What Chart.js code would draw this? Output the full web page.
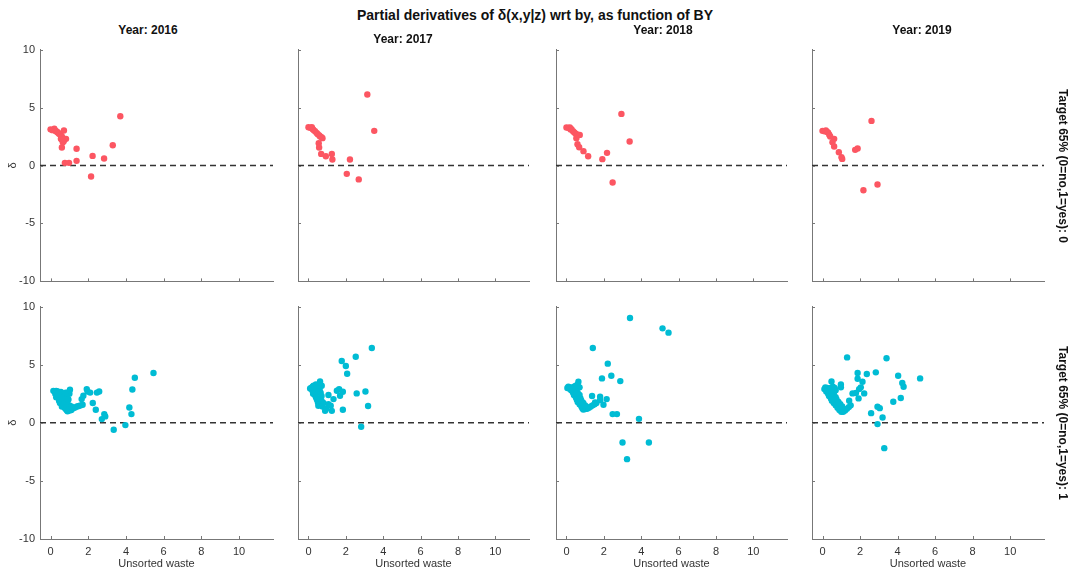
<!DOCTYPE html>
<html>
<head>
<meta charset="utf-8">
<script src="https://cdn.jsdelivr.net/npm/chart.js@4.4.1/dist/chart.umd.min.js"></script>
<style>
  body { margin: 0; background: #fff; }
  #wrap { position: relative; width: 1072px; height: 575px; overflow: hidden; font-family: "Liberation Sans", Arial, sans-serif; color: #111; }
  #wrap canvas { position: absolute; }
  .lbl { position: absolute; white-space: nowrap; font-weight: bold; transform: translate(-50%, -50%); }
  .main { font-size: 14px; }
  .year { font-size: 12px; }
  .row { font-size: 12px; transform: translate(-50%, -50%) rotate(90deg); }
</style>
</head>
<body>
<div id="wrap"></div>
<script>
// axis settings
const years = ["2016", "2017", "2018", "2019"];
const rowLabels = ["Target 65% (0=no,1=yes): 0", "Target 65% (0=no,1=yes): 1"];
const xTicks = [0, 2, 4, 6, 8, 10];
const yTicks = [-10, -5, 0, 5, 10];
const colors = ["rgb(252,86,98)", "rgb(0,188,212)"];

// target = 0 (top row), points as [unsorted waste, delta]
const t0_2016 = [
  [0.0, 3.12], [0.1, 3.05], [0.2, 3.18], [0.25, 3.0], [0.3, 2.95], [0.35, 2.9], [0.4, 2.82],
  [0.45, 2.75], [0.5, 2.7], [0.55, 2.6], [0.6, 2.5], [0.55, 2.3], [0.65, 2.2], [0.7, 2.1],
  [0.75, 2.3], [0.71, 3.02], [0.82, 2.3], [0.6, 1.55], [0.65, 2.0], [0.59, 2.27],
  [0.76, 0.23], [0.98, 0.23], [1.38, 1.44], [1.38, 0.4], [2.23, 0.83], [2.15, -0.95],
  [2.84, 0.6], [3.3, 1.75], [3.7, 4.25]
];
const t0_2017 = [
  [0.0, 3.3], [0.1, 3.25], [0.18, 3.3], [0.22, 3.15], [0.27, 3.07], [0.35, 2.95], [0.44, 2.8],
  [0.5, 2.7], [0.58, 2.6], [0.62, 2.5], [0.7, 2.45], [0.75, 2.36], [0.55, 1.93], [0.57, 1.55],
  [0.68, 1.0], [0.93, 0.8], [1.25, 1.0], [1.28, 0.52], [2.22, 0.52], [2.05, -0.72],
  [2.69, -1.2], [3.15, 6.12], [3.52, 2.99]
];
const t0_2018 = [
  [0.0, 3.28], [0.1, 3.25], [0.18, 3.28], [0.22, 3.1], [0.27, 3.13], [0.35, 2.95], [0.42, 2.85],
  [0.5, 2.75], [0.6, 2.65], [0.71, 2.64], [0.53, 2.36], [0.59, 1.84], [0.68, 1.58],
  [0.91, 1.24], [1.16, 0.8], [1.92, 0.55], [2.17, 1.09], [2.47, -1.47], [2.94, 4.45], [3.38, 2.07]
];
const t0_2019 = [
  [0.0, 2.99], [0.1, 2.95], [0.18, 3.02], [0.25, 2.9], [0.3, 2.84], [0.36, 2.65], [0.41, 2.5],
  [0.62, 2.3], [0.53, 2.0], [0.62, 1.64], [0.87, 1.15], [1.01, 0.72], [1.05, 0.57],
  [1.74, 1.35], [1.87, 1.47], [2.61, 3.85], [2.18, -2.13], [2.93, -1.64]
];

// target = 1 (bottom row)
const t1_2016 = [
  [0.15, 2.75], [0.22, 2.7], [0.3, 2.75], [0.38, 2.7], [0.45, 2.6], [0.25, 2.5], [0.35, 2.4],
  [0.3, 2.2], [0.42, 2.2], [0.5, 2.3], [0.55, 2.0], [0.45, 1.9], [0.6, 1.8], [0.5, 1.7],
  [0.65, 1.6], [0.7, 1.45], [0.6, 1.4], [0.75, 1.3], [0.8, 1.2], [0.85, 1.1], [0.9, 1.0],
  [1.0, 1.05], [1.1, 1.1], [0.95, 1.25], [0.7, 2.1], [0.8, 2.5], [0.9, 2.6], [0.85, 2.2],
  [0.75, 1.8], [0.9, 1.6], [1.0, 1.5], [1.03, 2.84], [1.0, 2.5], [0.95, 2.0], [1.2, 1.25],
  [1.3, 1.32], [1.4, 1.4], [1.5, 1.45], [1.6, 1.5], [1.7, 1.55], [1.1, 1.4], [0.55, 2.65],
  [0.65, 2.5], [0.4, 2.5], [0.6, 2.2], [0.8, 2.6],
  [1.65, 2.04], [1.74, 2.33], [1.92, 2.9], [1.96, 2.7], [2.1, 2.6], [2.24, 1.7], [2.4, 1.12],
  [2.46, 2.6], [2.58, 2.7], [2.72, 0.32], [2.85, 0.75], [2.9, 0.55], [3.35, -0.6],
  [3.97, -0.2], [4.18, 1.32], [4.29, 0.75], [4.34, 2.87], [4.47, 3.88], [5.46, 4.28]
];
const t1_2017 = [
  [0.09, 2.96], [0.15, 3.0], [0.22, 3.1], [0.27, 3.19], [0.35, 3.0], [0.2, 2.8], [0.3, 2.7],
  [0.25, 2.5], [0.35, 2.4], [0.4, 2.2], [0.45, 2.0], [0.5, 1.8], [0.55, 1.6], [0.53, 1.47],
  [0.62, 3.56], [0.71, 3.19], [0.6, 2.9], [0.5, 2.6], [0.65, 2.6], [0.7, 2.3], [0.6, 2.1],
  [0.7, 1.9], [0.8, 1.7], [0.75, 1.4], [0.89, 1.03], [0.95, 1.2], [0.45, 2.9], [0.55, 3.2],
  [0.4, 3.3],
  [1.07, 1.61], [1.07, 2.39], [1.25, 1.03], [1.19, 1.47], [1.34, 2.04], [1.52, 2.76],
  [1.64, 2.9], [1.69, 2.33], [1.84, 2.67], [1.84, 1.12], [1.78, 5.32], [2.0, 4.89],
  [2.07, 4.22], [2.53, 5.69], [2.58, 2.53], [2.82, -0.34], [3.05, 2.7], [3.19, 1.44], [3.39, 6.44]
];
const t1_2018 = [
  [0.05, 3.0], [0.1, 3.1], [0.2, 3.05], [0.3, 3.0], [0.4, 3.1], [0.5, 3.2], [0.64, 3.53],
  [0.6, 3.3], [0.7, 3.05], [0.25, 2.8], [0.35, 2.6], [0.4, 2.4], [0.5, 2.2], [0.55, 2.0],
  [0.6, 1.8], [0.7, 1.6], [0.8, 1.4], [0.85, 1.25], [0.9, 1.15], [1.0, 1.18], [1.1, 1.2],
  [1.2, 1.3], [1.3, 1.4], [1.4, 1.5], [1.5, 1.6], [1.6, 1.7], [0.5, 2.8], [0.6, 2.6],
  [0.7, 2.4], [0.75, 2.1], [0.8, 1.9], [0.9, 1.7], [1.0, 1.5], [0.45, 3.0], [0.3, 2.9], [0.15, 2.95],
  [1.37, 2.3], [1.8, 2.24], [1.8, 1.95], [2.15, 2.04], [1.98, 1.55], [1.53, 1.75],
  [2.47, 0.75], [2.7, 0.75], [3.88, 0.34], [3.0, -1.7], [4.41, -1.7], [3.24, -3.13],
  [1.9, 3.82], [2.4, 4.05], [2.88, 3.59], [2.21, 5.09], [1.41, 6.44], [3.4, 9.02],
  [5.14, 8.13], [5.46, 7.76]
];
const t1_2019 = [
  [0.1, 2.9], [0.15, 3.05], [0.25, 3.0], [0.35, 2.95], [0.45, 3.0], [0.48, 3.56], [0.55, 3.1],
  [0.65, 3.0], [0.2, 2.7], [0.3, 2.5], [0.35, 2.3], [0.45, 2.1], [0.5, 1.9], [0.6, 1.7],
  [0.7, 1.5], [0.8, 1.3], [0.9, 1.1], [1.0, 0.95], [1.1, 0.95], [1.2, 1.05], [1.3, 1.2],
  [1.4, 1.35], [1.5, 1.5], [0.6, 2.5], [0.7, 2.2], [0.75, 2.0], [0.85, 1.8], [0.95, 1.6],
  [1.05, 1.4], [0.98, 3.3], [0.98, 3.05], [0.7, 2.8], [0.5, 2.7],
  [1.31, 5.63], [3.41, 5.55], [1.87, 4.28], [2.36, 4.2], [2.84, 4.34], [1.87, 3.79],
  [2.13, 3.53], [4.03, 4.05], [4.25, 3.42], [4.32, 3.1], [5.2, 3.82], [2.04, 3.05],
  [1.95, 2.9], [2.22, 2.53], [1.6, 2.53], [1.78, 2.56], [1.92, 2.1], [1.42, 1.9],
  [3.77, 1.81], [4.17, 2.13], [2.93, 1.38], [3.05, 1.26], [2.59, 0.83], [3.2, 0.46],
  [2.93, -0.11], [3.29, -2.18]
];
const panels = [
  [t0_2016, t0_2017, t0_2018, t0_2019],
  [t1_2016, t1_2017, t1_2018, t1_2019]
];

// panel placement (plot area in page pixels)
const colLeft = [40, 298, 556, 812];
const colWidth = [233, 231, 231, 232];
const rowTop = [50, 307];
const rowHeight = [232, 233];

Chart.defaults.font.family = '"Liberation Sans", Arial, sans-serif';
Chart.defaults.font.size = 11;
Chart.defaults.color = "#333";

// MATLAB style ticks pointing into the plot
const innerTicks = {
  id: "innerTicks",
  afterDraw(chart) {
    const { ctx, chartArea: a, scales: { x, y } } = chart;
    ctx.save();
    ctx.strokeStyle = "#777";
    ctx.lineWidth = 1;
    ctx.beginPath();
    xTicks.forEach(v => {
      const p = Math.round(x.getPixelForValue(v)) + 0.5;
      ctx.moveTo(p, a.bottom);
      ctx.lineTo(p, a.bottom - 3);
    });
    yTicks.forEach(v => {
      const p = Math.round(y.getPixelForValue(v)) + 0.5;
      ctx.moveTo(a.left, p);
      ctx.lineTo(a.left + 3, p);
    });
    ctx.stroke();
    ctx.restore();
  }
};

const wrap = document.getElementById("wrap");

function addLabel(text, cls, x, y) {
  const d = document.createElement("div");
  d.className = "lbl " + cls;
  d.textContent = text;
  d.style.left = x + "px";
  d.style.top = y + "px";
  wrap.appendChild(d);
}

function panelConfig(row, col, xh, yw) {
  const pts = panels[row][col].map(p => ({ x: p[0], y: p[1] }));
  return {
    type: "scatter",
    data: {
      datasets: [
        {
          type: "line",
          data: [{ x: -0.56, y: 0 }, { x: 11.8, y: 0 }],
          borderColor: "#333",
          borderWidth: 1.6,
          borderDash: [6, 4],
          pointRadius: 0,
          order: 2
        },
        {
          data: pts,
          backgroundColor: colors[row],
          borderWidth: 0,
          pointRadius: 3.2,
          order: 1
        }
      ]
    },
    options: {
      responsive: false,
      maintainAspectRatio: false,
      animation: false,
      layout: { padding: 0 },
      plugins: { legend: { display: false }, tooltip: { enabled: false } },
      scales: {
        x: {
          type: "linear",
          min: -0.56,
          max: 11.8,
          afterBuildTicks: s => { s.ticks = xTicks.map(v => ({ value: v })); },
          afterFit: s => { s.height = xh; },
          grid: { drawOnChartArea: false, drawTicks: false },
          border: { color: "#777" },
          ticks: {
            padding: 6,
            autoSkip: false,
            maxRotation: 0,
            callback: v => (row === 1 ? v : "")
          },
          title: { display: row === 1, text: "Unsorted waste", color: "#333", padding: { top: 2, bottom: 4 } }
        },
        y: {
          min: -10,
          max: 10,
          afterBuildTicks: s => { s.ticks = yTicks.map(v => ({ value: v })); },
          afterFit: s => { s.width = yw; },
          grid: { drawOnChartArea: false, drawTicks: false },
          border: { color: "#777" },
          ticks: {
            padding: 5,
            callback: v => (col === 0 ? v : "")
          },
          title: { display: col === 0, text: "δ", color: "#333", padding: { top: 6, bottom: 2 } }
        }
      }
    },
    plugins: [innerTicks]
  };
}

function makePanel(row, col) {
  const yw = 40;
  const xh = row === 1 ? 36 : 8;
  const canvas = document.createElement("canvas");
  let w = yw + colWidth[col] + 8;
  let h = rowHeight[row] + xh + 10;
  canvas.width = w;
  canvas.height = h;
  wrap.appendChild(canvas);

  // first pass: see where the plot area lands, then size the canvas to fit
  let chart = new Chart(canvas.getContext("2d"), panelConfig(row, col, xh, yw));
  const a = chart.chartArea;
  w += colWidth[col] - (a.right - a.left);
  h += rowHeight[row] - (a.bottom - a.top);
  chart.destroy();
  canvas.width = w;
  canvas.height = h;
  chart = new Chart(canvas.getContext("2d"), panelConfig(row, col, xh, yw));
  const b = chart.chartArea;
  canvas.style.left = (colLeft[col] - b.left) + "px";
  canvas.style.top = (rowTop[row] - b.top) + "px";
}

for (let r = 0; r < 2; r++) {
  for (let c = 0; c < 4; c++) makePanel(r, c);
}

// titles
addLabel("Partial derivatives of δ(x,y|z) wrt by, as function of BY", "main", 535, 15);
const yearX = [148, 403, 663, 922];
const yearY = [30, 39, 30, 30];
years.forEach((yr, i) => addLabel("Year: " + yr, "year", yearX[i], yearY[i]));
addLabel(rowLabels[0], "row", 1063, 166);
addLabel(rowLabels[1], "row", 1063, 423);
</script>
</body>
</html>
